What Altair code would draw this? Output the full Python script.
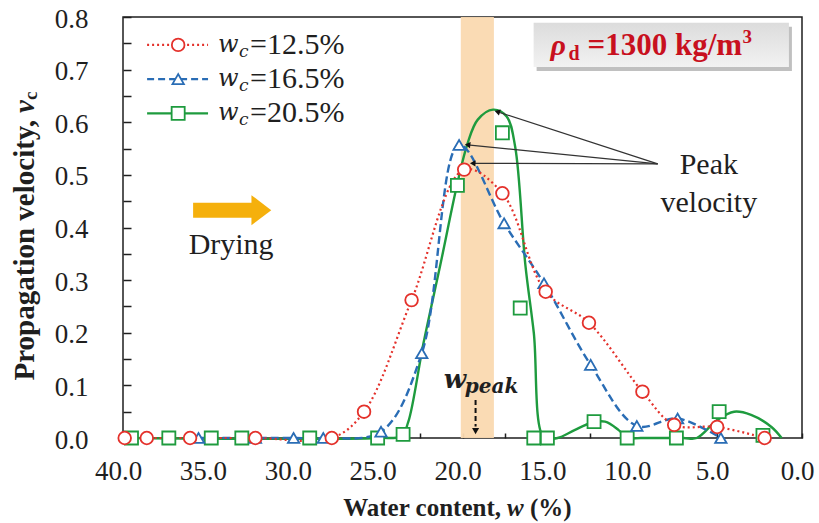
import altair as alt
import pandas as pd

# ---------------- data ----------------
red_x = [39.9, 38.6, 36.05, 32.2, 27.7, 25.8, 23.0, 19.9, 17.65, 15.1, 12.55, 9.4, 7.53, 5.0, 2.2]
red_y = [0, 0, 0, 0, 0, 0.05, 0.262, 0.51, 0.465, 0.278, 0.219, 0.088, 0.025, 0.021, 0.0]

blue_x = [35.55, 32.2, 29.95, 28.2, 24.8, 22.4, 20.2, 17.55, 15.2, 12.45, 9.73, 7.33, 4.78]
blue_y = [0, 0, 0, 0, 0.012, 0.161, 0.557, 0.408, 0.294, 0.139, 0.023, 0.037, 0.0]

green_x = [39.5, 37.3, 34.8, 33.0, 29.0, 25.0, 23.5, 20.3, 17.65, 16.6, 15.8, 15.0, 12.25, 10.3, 7.4, 4.88, 2.3]
green_y = [0, 0, 0, 0, 0, 0, 0.007, 0.48, 0.58, 0.247, 0, 0, 0.031, 0, 0, 0.05, 0.005]

# fitted green curve as drawn in the figure
green_fit_x = [39.5, 25.0, 23.6, 23.2, 22.3, 21.3, 20.3, 19.7, 19.1, 18.2, 17.4, 16.9, 16.3, 15.8, 15.2,
               14.4, 13.4, 12.4, 11.6, 10.8, 10.3, 9.5, 7.0, 6.2, 5.0, 4.0, 3.0, 1.8, 1.2]
green_fit_y = [0, 0, 0.004, 0.03, 0.18, 0.33, 0.484, 0.56, 0.605, 0.624, 0.611, 0.554, 0.33, 0.20, 0,
               0, 0.015, 0.029, 0.031, 0.015, 0, 0, 0, 0, 0.034, 0.05, 0.044, 0.021, 0]

legend_values = ["=12.5%", "=16.5%", "=20.5%"]
x_ticks = [40, 35, 30, 25, 20, 15, 10, 5, 0]
y_ticks = [0, 0.1, 0.2, 0.3, 0.4, 0.5, 0.6, 0.7, 0.8]
x_minor = [i * 2.5 for i in range(17)]
y_minor = [round(i * 0.05, 2) for i in range(17)]

peak_band = [18.15, 20.1]
peak_tip_x = [17.95, 19.7, 19.4]
peak_tip_y = [0.62, 0.557, 0.522]
peak_tip_angle = [18, 6, 0]
w_peak_x = 19.23

# ---------------- styling ----------------
FONT = "Liberation Serif"
MATH = "DejaVu Serif"
RED, BLUE, GREEN = "#E4312B", "#2A6DB5", "#1E9B3E"
INK = "#1f1f1f"
W, H = 679, 421

xs = alt.Scale(domain=[40, 0], nice=False, zero=False)
ys = alt.Scale(domain=[0, 0.8], nice=False, zero=False)


def xq(f, axis=None):
    return alt.X(f"{f}:Q", scale=xs, axis=axis)


def yq(f, axis=None):
    return alt.Y(f"{f}:Q", scale=ys, axis=axis)


def df(xv, yv):
    return pd.DataFrame({"x": xv, "y": yv})


x_axis_labels = alt.Axis(orient="bottom", values=x_ticks, format=".1f", ticks=False, domain=False,
                         grid=False, labelFont=FONT, labelFontSize=27, labelColor=INK,
                         labelPadding=20, labelOffset=-5, labelFlush=False, labelOverlap=False,
                         labelBound=False, title=None)
y_axis_labels = alt.Axis(orient="left", values=y_ticks, format=".1f", ticks=False, domain=False,
                         grid=False, labelFont=FONT, labelFontSize=27, labelColor=INK,
                         labelPadding=35, labelOffset=2, labelFlush=False, labelOverlap=False,
                         labelBound=False, title=None)
x_axis_ticks = alt.Axis(orient="top", offset=-H, values=x_minor, labels=False, ticks=True,
                        tickSize=5, tickWidth=1.5, tickColor=INK, domain=False, grid=False, title=None)
y_axis_ticks = alt.Axis(orient="right", offset=-W, values=y_minor, labels=False, ticks=True,
                        tickSize=8, tickWidth=1.5, tickColor=INK, domain=False, grid=False, title=None)

layers = []

# peak band
layers.append(
    alt.Chart(pd.DataFrame({"x1": [peak_band[0]], "x2": [peak_band[1]], "y1": [0.0], "y2": [0.8]}))
    .mark_rect(color="#FAD9B0", opacity=0.95)
    .encode(x=xq("x1", x_axis_labels), x2="x2", y=yq("y1", y_axis_labels), y2="y2")
)

# lines
layers.append(
    alt.Chart(df(green_fit_x, green_fit_y)).mark_line(color=GREEN, strokeWidth=2.4, interpolate="catmull-rom")
    .encode(x=xq("x", x_axis_ticks), y=yq("y", y_axis_ticks))
)
layers.append(
    alt.Chart(df(blue_x, blue_y)).mark_line(color=BLUE, strokeWidth=2.4, strokeDash=[8, 4], interpolate="catmull-rom")
    .encode(x=xq("x"), y=yq("y"))
)
layers.append(
    alt.Chart(df(red_x, red_y)).mark_line(color=RED, strokeWidth=2.2, strokeDash=[2, 3], interpolate="catmull-rom")
    .encode(x=xq("x"), y=yq("y"))
)

# markers
layers.append(
    alt.Chart(df(green_x, green_y)).mark_point(shape="square", size=170, fill="white", stroke=GREEN,
                                              strokeWidth=1.8, opacity=1, fillOpacity=1)
    .encode(x=xq("x"), y=yq("y"))
)
layers.append(
    alt.Chart(df(blue_x, blue_y)).mark_point(shape="triangle-up", size=130, fill="white", stroke=BLUE,
                                            strokeWidth=1.8, opacity=1, fillOpacity=1)
    .encode(x=xq("x"), y=yq("y"))
)
layers.append(
    alt.Chart(df(red_x, red_y)).mark_point(shape="circle", size=160, fill="white", stroke=RED,
                                          strokeWidth=1.8, opacity=1, fillOpacity=1)
    .encode(x=xq("x"), y=yq("y"))
)


def dtext(text, x, y, size, color=INK, font=FONT, weight="normal", style="normal", align="left",
          baseline="alphabetic", dx=0, dy=0):
    return (alt.Chart(pd.DataFrame({"x": [x], "y": [y]}))
            .mark_text(text=text, font=font, fontSize=size, fontWeight=weight, fontStyle=style,
                       color=color, align=align, baseline=baseline, dx=dx, dy=dy)
            .encode(x=xq("x"), y=yq("y")))


def ptext(text, px, py, size, color=INK, font=FONT, weight="normal", style="normal", align="left",
          baseline="alphabetic", dx=0, dy=0, angle=0):
    return (alt.Chart(pd.DataFrame({"a": [0]}))
            .mark_text(text=text, font=font, fontSize=size, fontWeight=weight, fontStyle=style,
                       color=color, align=align, baseline=baseline, dx=dx, dy=dy, angle=angle)
            .encode(x=alt.value(px), y=alt.value(py)))


# legend (inside the plot, top-left)
leg_y = [0.747, 0.682, 0.617]
leg_styles = [(RED, [2, 3], "circle", 160), (BLUE, [7, 4], "triangle-up", 130), (GREEN, None, "square", 170)]
for (col, dash, shp, sz), ly, lab in zip(leg_styles, leg_y, legend_values):
    rule_kw = dict(color=col, strokeWidth=2.2)
    if dash:
        rule_kw["strokeDash"] = dash
    layers.append(
        alt.Chart(pd.DataFrame({"x": [38.58], "x2": [34.99], "y": [ly]})).mark_rule(**rule_kw)
        .encode(x=xq("x"), x2="x2", y=yq("y"))
    )
    layers.append(
        alt.Chart(pd.DataFrame({"x": [36.75], "y": [ly]}))
        .mark_point(shape=shp, size=sz, fill="white", stroke=col, strokeWidth=1.8, opacity=1, fillOpacity=1)
        .encode(x=xq("x"), y=yq("y"))
    )
    layers.append(dtext("w", 34.4, ly, 24, font=MATH, style="italic", baseline="middle"))
    layers.append(dtext("c", 34.4, ly, 17, font=MATH, style="italic", baseline="middle", dx=21, dy=7))
    layers.append(dtext(lab, 34.4, ly, 30, baseline="middle", dx=32))

# density box
layers.append(
    alt.Chart(pd.DataFrame({"x": [15.81], "x2": [0.77], "y": [0.789], "y2": [0.705]}))
    .mark_rect(color="#8c8c8c", opacity=0.55, xOffset=3, yOffset=4, x2Offset=3, y2Offset=4)
    .encode(x=xq("x"), x2="x2", y=yq("y"), y2="y2")
)
layers.append(
    alt.Chart(pd.DataFrame({"x": [15.81], "x2": [0.77], "y": [0.789], "y2": [0.705]}))
    .mark_rect(color=alt.Gradient(gradient="linear", stops=[alt.GradientStop(color="#dcdcdc", offset=0),
                                                            alt.GradientStop(color="#f2f2f2", offset=1)],
                                  x1=0, y1=0, x2=0, y2=1))
    .encode(x=xq("x"), x2="x2", y=yq("y"), y2="y2")
)
DRED = "#C8101E"
layers.append(dtext("ρ", 14.81, 0.728, 30, color=DRED, weight="bold", style="italic"))
layers.append(dtext("d", 14.81, 0.728, 20, color=DRED, weight="bold", dx=18, dy=5))
layers.append(dtext("=1300 kg/m", 14.81, 0.728, 31, color=DRED, weight="bold", dx=37))
layers.append(dtext("3", 14.81, 0.728, 19, color=DRED, weight="bold", dx=192, dy=-12))

# Drying arrow and label
layers.append(
    alt.Chart(pd.DataFrame({"x": [35.87], "x2": [32.3], "y": [0.433]}))
    .mark_rule(color="#F5B00C", strokeWidth=15).encode(x=xq("x"), x2="x2", y=yq("y"))
)
layers.append(
    alt.Chart(pd.DataFrame({"x": [31.85], "y": [0.433]}))
    .mark_point(shape="M-0.66,-1L0.66,0L-0.66,1Z", size=900, filled=True, color="#F5B00C", opacity=1)
    .encode(x=xq("x"), y=yq("y"))
)
layers.append(dtext("Drying", 33.63, 0.367, 30, align="center", baseline="middle"))

# Peak velocity arrows
layers.append(
    alt.Chart(pd.DataFrame({"x": [8.5] * 3, "y": [0.521] * 3, "x2": peak_tip_x, "y2": peak_tip_y}))
    .mark_rule(color="#333333", strokeWidth=1.2).encode(x=xq("x"), y=yq("y"), x2="x2", y2="y2")
)
layers.append(
    alt.Chart(pd.DataFrame({"x": peak_tip_x, "y": peak_tip_y, "a": peak_tip_angle}))
    .mark_point(shape="triangle-left", size=40, filled=True, color="#111111", opacity=1)
    .encode(x=xq("x"), y=yq("y"), angle=alt.Angle("a:Q", scale=None))
)
layers.append(dtext("Peak", 5.49, 0.519, 30, align="center", baseline="middle"))
layers.append(dtext("velocity", 5.49, 0.447, 30, align="center", baseline="middle"))

# w_peak marker
layers.append(
    alt.Chart(pd.DataFrame({"x": [w_peak_x], "y": [0.072], "y2": [0.022]}))
    .mark_rule(color="#111111", strokeWidth=2, strokeDash=[5, 3]).encode(x=xq("x"), y=yq("y"), y2="y2")
)
layers.append(
    alt.Chart(pd.DataFrame({"x": [w_peak_x], "y": [0.013]}))
    .mark_point(shape="triangle-down", size=50, filled=True, color="#111111", opacity=1)
    .encode(x=xq("x"), y=yq("y"))
)
layers.append(dtext("w", 21.1, 0.095, 26, font=MATH, style="italic", weight="bold"))
layers.append(dtext("peak", 21.1, 0.095, 20, font=MATH, style="italic", weight="bold", dx=21, dy=5))

# axis titles (composed so that subscripts / italics can be shown)
layers.append(ptext("Propagation velocity,", -98, 96, 29, weight="bold", align="right", baseline="middle",
                    angle=270, dx=-7))
layers.append(ptext("v", -98, 96, 29, weight="bold", style="italic", align="left", baseline="middle", angle=270))
layers.append(ptext("c", -98, 96, 19, weight="bold", align="left", baseline="middle", angle=270, dx=13, dy=6))

layers.append(ptext("Water content,", 384, 499, 25, weight="bold", align="right", dx=-6))
layers.append(ptext("w", 384, 499, 25, weight="bold", style="italic", align="left"))
layers.append(ptext("(%)", 401, 499, 25, weight="bold", align="left", dx=6))

chart = (
    alt.layer(*layers)
    .resolve_axis(x="independent", y="independent")
    .properties(width=W, height=H, autosize=alt.AutoSizeParams(type="none"),
                padding={"left": 123, "top": 17, "right": 17, "bottom": 85}, background="white")
    .configure_view(stroke=INK, strokeWidth=1.5)
)

chart.save("out.html", embed_options={"renderer": "svg", "actions": False})
